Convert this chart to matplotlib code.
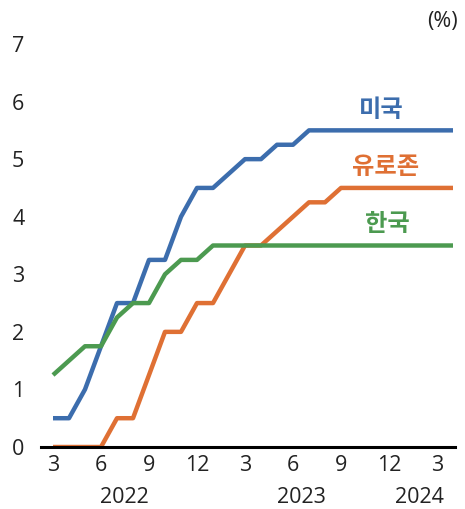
import matplotlib
matplotlib.use("Agg")
import matplotlib.pyplot as plt
import numpy as np

plt.rcParams['font.family'] = ['Open Sans', 'Noto Sans CJK KR', 'DejaVu Sans']

# Monthly policy rates, 2022-03 .. 2024-04
months = list(range(26))
us = [0.5, 0.5, 1.0, 1.75, 2.5, 2.5, 3.25, 3.25, 4.0, 4.5,
      4.5, 4.75, 5.0, 5.0, 5.25, 5.25, 5.5, 5.5, 5.5, 5.5,
      5.5, 5.5, 5.5, 5.5, 5.5, 5.5]
euro = [0.0, 0.0, 0.0, 0.0, 0.5, 0.5, 1.25, 2.0, 2.0, 2.5,
        2.5, 3.0, 3.5, 3.5, 3.75, 4.0, 4.25, 4.25, 4.5, 4.5,
        4.5, 4.5, 4.5, 4.5, 4.5, 4.5]
korea = [1.25, 1.5, 1.75, 1.75, 2.25, 2.5, 2.5, 3.0, 3.25, 3.25,
         3.5, 3.5, 3.5, 3.5, 3.5, 3.5, 3.5, 3.5, 3.5, 3.5,
         3.5, 3.5, 3.5, 3.5, 3.5, 3.5]

series_names = ['미국', '유로존', '한국']
colors = ['#3C6DAD', '#DF7034', '#4C9A50']
label_pos = [(20.5, 5.85), (20.8, 4.86), (20.9, 3.87)]

tick_pos = [0, 3, 6, 9, 12, 15, 18, 21, 24]
tick_labels = ['3', '6', '9', '12', '3', '6', '9', '12', '3']
years = ['2022', '2023', '2024']
year_pos = [4.45, 15.5, 22.9]

fig = plt.figure(figsize=(4.65, 5.09), dpi=100)
ax = fig.add_axes([41 / 465, 1 - 447 / 509, (455 - 41) / 465, (447 - 44) / 509])

for vals, c in zip([us, euro, korea], colors):
    ax.plot(months, vals, color=c, lw=3.2, solid_capstyle='butt', zorder=3)

for name, c, (x, y) in zip(series_names, colors, label_pos):
    ax.text(x, y, name, color=c, fontsize=17.5, fontweight='bold',
            family=['Noto Sans CJK KR', 'DejaVu Sans'],
            ha='center', va='center')

ax.set_xlim(-0.75, 25.125)
ax.set_ylim(0, 7)
ax.set_yticks(range(8))
ax.set_yticklabels([str(i) for i in range(8)])
ax.set_xticks(tick_pos)
ax.set_xticklabels(tick_labels)

for s in ['top', 'right', 'left']:
    ax.spines[s].set_visible(False)
ax.spines['bottom'].set_linewidth(2.2)
ax.spines['bottom'].set_color('black')
ax.spines['bottom'].set_zorder(4)

ax.tick_params(axis='both', length=0, labelsize=15.5, colors='#222222')
ax.tick_params(axis='y', pad=12)
ax.tick_params(axis='x', pad=6)

for yr, xp in zip(years, year_pos):
    ax.text(xp, -0.88, yr, ha='center', va='center', fontsize=15.5,
            color='#222222', transform=ax.transData, clip_on=False)

fig.text(442 / 465, 1 - 22 / 509, '(%)', ha='center', va='center',
         fontsize=15.5, color='#222222')

fig.savefig('out.png', dpi=100)
